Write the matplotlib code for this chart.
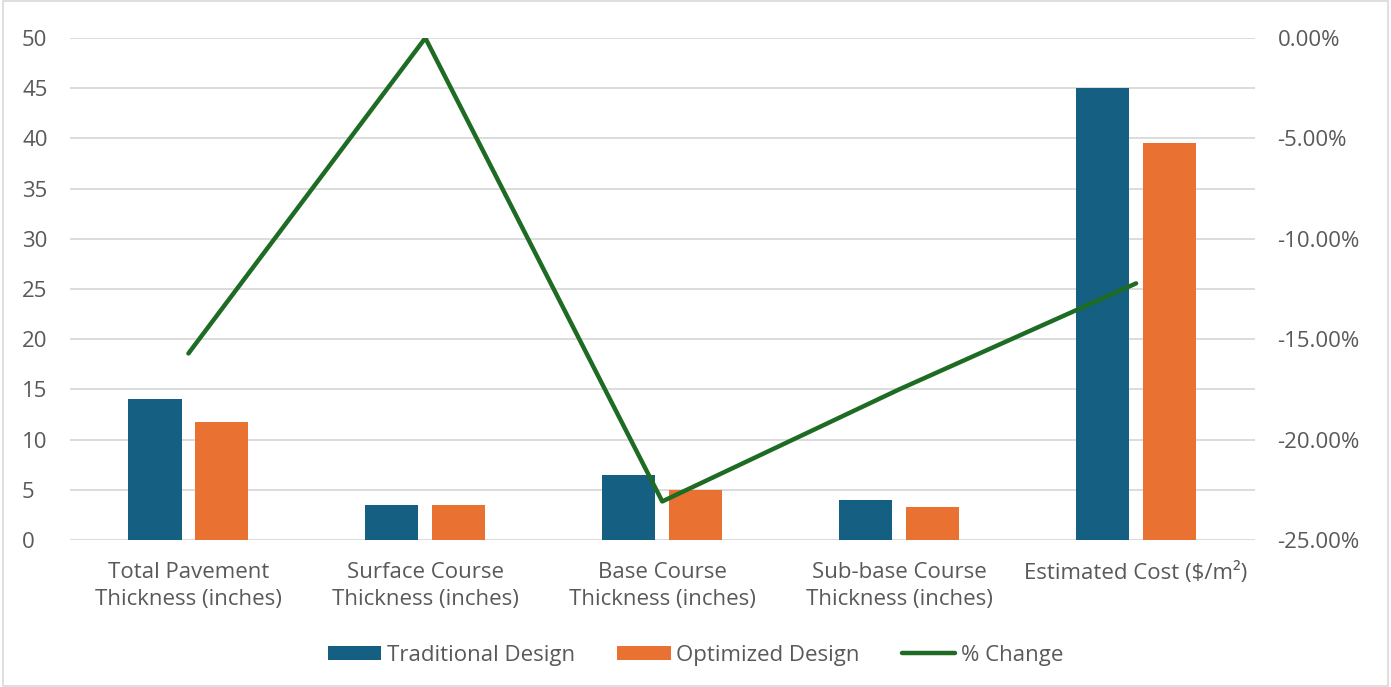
import numpy as np
import matplotlib.pyplot as plt
from matplotlib.ticker import FuncFormatter
from matplotlib.patches import Rectangle

categories = ["Total Pavement\nThickness (inches)", "Surface Course\nThickness (inches)",
              "Base Course\nThickness (inches)", "Sub-base Course\nThickness (inches)",
              "Estimated Cost ($/m\u00b2)"]
traditional = [14, 3.5, 6.5, 4, 45]
optimized = [11.8, 3.5, 5, 3.3, 39.5]
pct_change = [-15.71, 0.0, -23.08, -17.5, -12.22]

plt.rcParams['font.family'] = ['Open Sans', 'DejaVu Sans']
text_color = '#595959'
fs = 16

fig = plt.figure(figsize=(13.91, 6.87), dpi=100)
ax = fig.add_axes([0.0503, 0.214, 0.8516, 0.7307])
x = np.arange(len(categories))

# Bars
ax.bar(x - 0.141, traditional, width=0.224, color='#156082', label='Traditional Design', zorder=3)
ax.bar(x + 0.141, optimized, width=0.224, color='#E97132', label='Optimized Design', zorder=3)
ax.set_ylim(0, 50)
ax.set_xlim(-0.5, 4.5)
ax.set_yticks(range(0, 51, 5))
ax.yaxis.grid(True, color='#D9D9D9', linewidth=1.3, zorder=0)
ax.set_axisbelow(True)
ax.set_xticks(x)
ax.set_xticklabels(categories, fontsize=fs, color=text_color, linespacing=1.4)
ax.tick_params(axis='both', length=0, labelsize=fs, colors=text_color)
ax.tick_params(axis='x', pad=15.5)
ax.tick_params(axis='y', pad=34.5)
for s in ax.spines.values():
    s.set_visible(False)
for lab in ax.get_yticklabels():
    lab.set_horizontalalignment('left')

# % change line on secondary axis
ax2 = ax.twinx()
line, = ax2.plot(x, pct_change, color='#1E6B24', linewidth=3.2, label='% Change',
                 solid_capstyle='round', zorder=4)
ax2.set_ylim(-25, 0)
ax2.set_yticks(np.arange(-25, 0.1, 5))
ax2.yaxis.set_major_formatter(FuncFormatter(lambda v, p: f"{v:.2f}%".replace('-0.00', '0.00')))
ax2.tick_params(axis='y', length=0, labelsize=fs, colors=text_color, pad=16.5)
for s in ax2.spines.values():
    s.set_visible(False)

# Legend
h1, l1 = ax.get_legend_handles_labels()
fig.legend(h1 + [line], l1 + ['% Change'], loc='center', bbox_to_anchor=(0.5, 0.046),
           ncol=3, frameon=False, fontsize=fs, labelcolor=text_color,
           handlelength=2.4, handleheight=0.6, handletextpad=0.25, columnspacing=1.9)

# Outer border
fig.patches.append(Rectangle((0.002, 0.002), 0.996, 0.996, transform=fig.transFigure,
                             fill=False, edgecolor='#D9D9D9', linewidth=1.2))

fig.savefig('out.png', dpi=100)
